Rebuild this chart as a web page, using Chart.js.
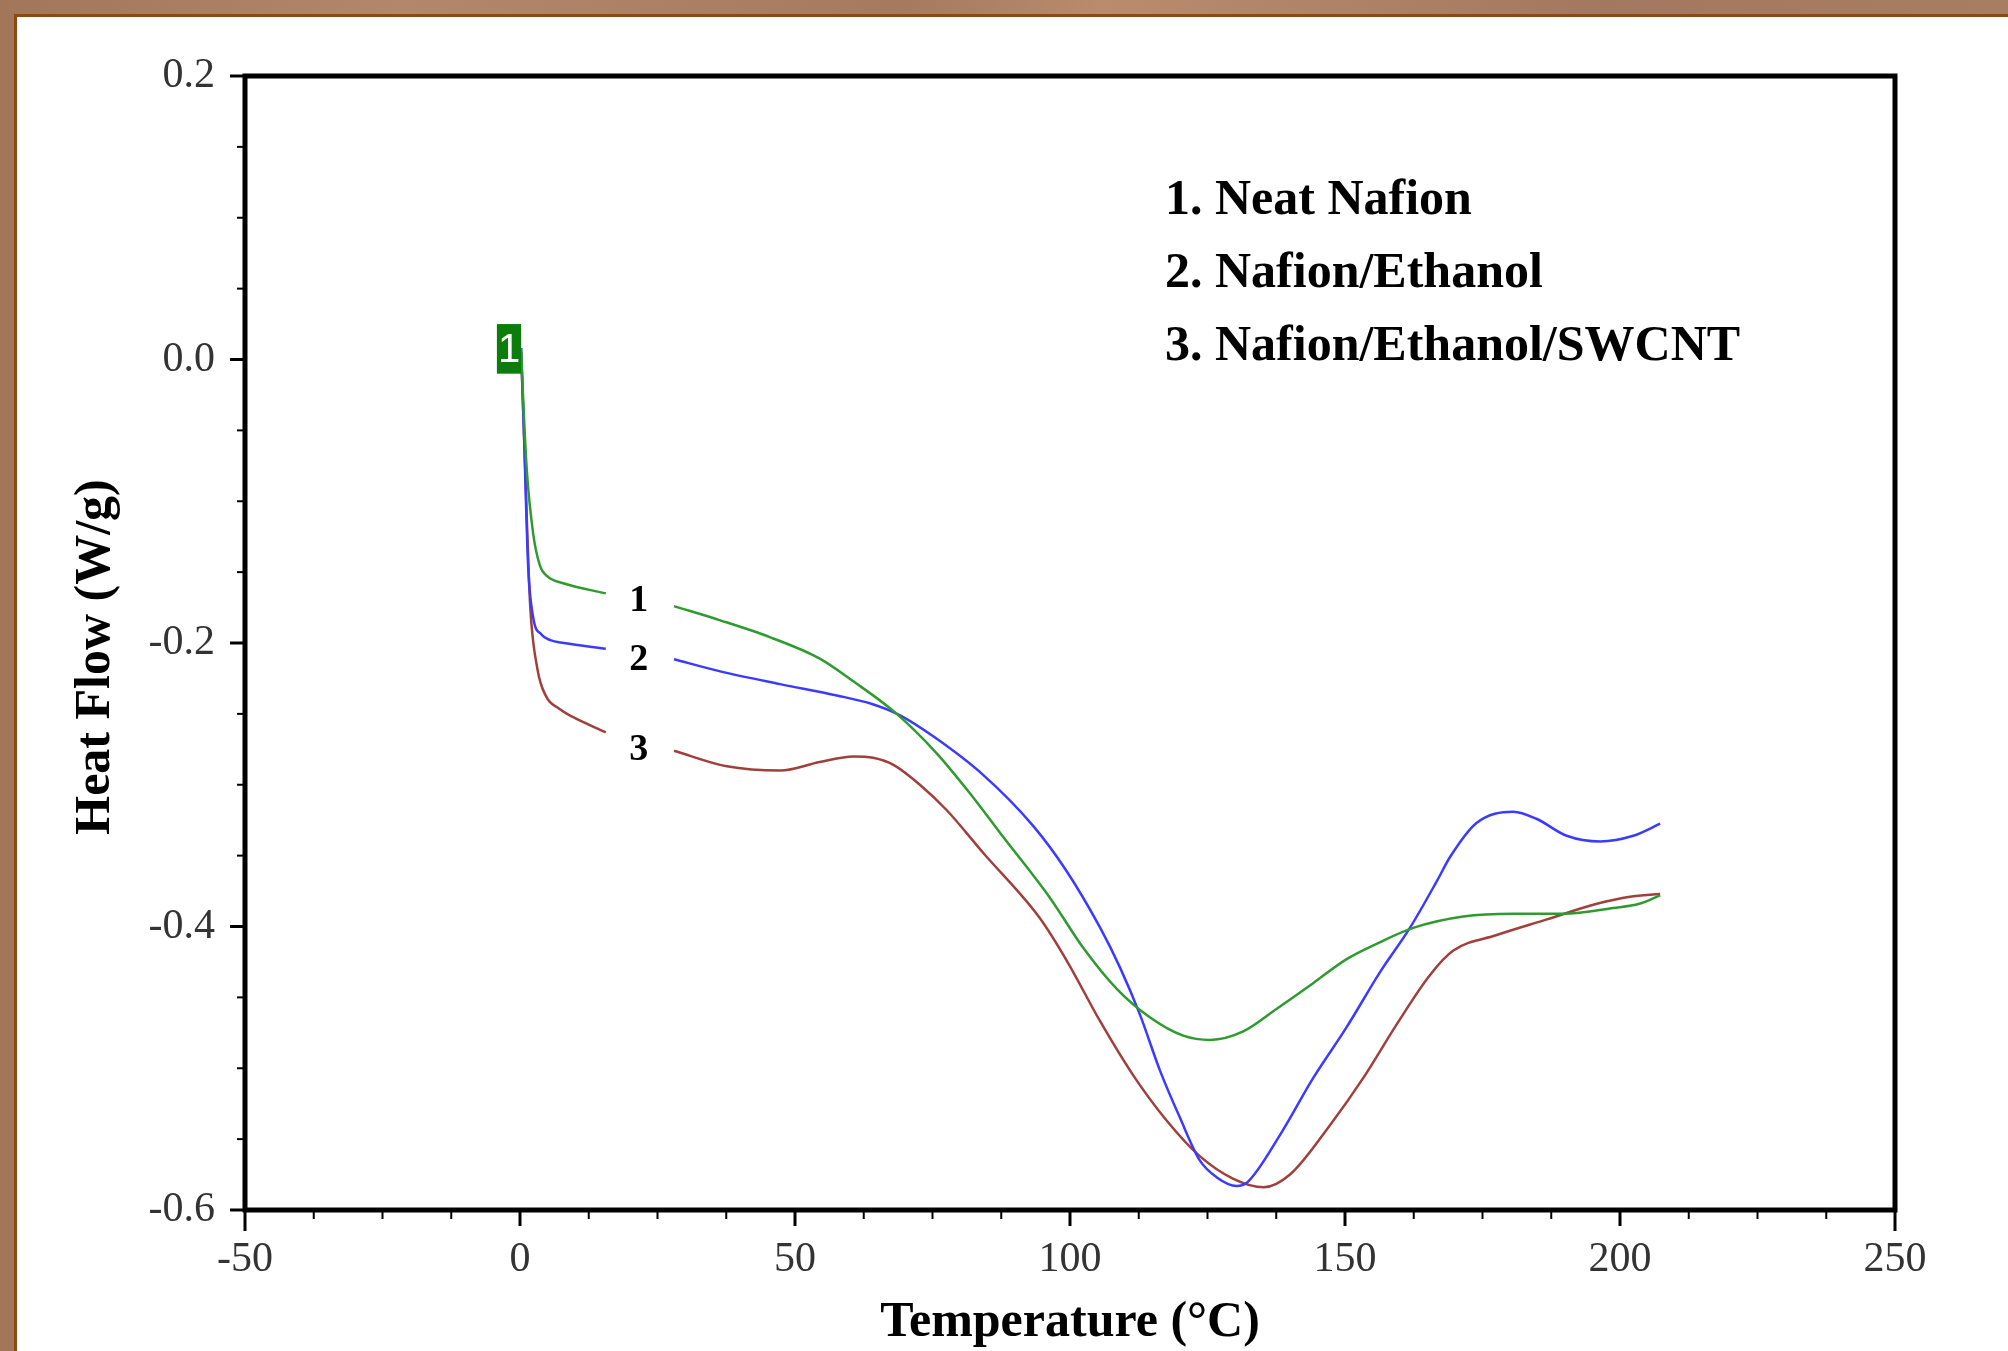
<!DOCTYPE html>
<html>
<head>
<meta charset="utf-8">
<script src="https://cdn.jsdelivr.net/npm/chart.js@4.4.1/dist/chart.umd.min.js"></script>
<style>
  html, body { margin: 0; padding: 0; }
  body {
    width: 2008px; height: 1351px; overflow: hidden; position: relative;
    background: linear-gradient(90deg, #a27659 0%, #b3876a 20%, #a57a5e 45%, #b88c6c 55%, #a37860 80%, #a87e62 100%);
  }
  #frame {
    position: absolute; left: 14px; top: 14px; width: 1994px; height: 1337px;
    border-left: 3px solid #8c4a12; border-top: 3px solid #8c4a12;
    background: #fff;
  }
  canvas { display: block; }
</style>
</head>
<body>
<div id="frame"><canvas id="dscChart" width="1991" height="1334"></canvas></div>
<script>
// curve 1: Neat Nafion (null = gap for the inline label)
const neatT  = [0.2, 0.6, 1.2, 2.4, 3.6, 5.0, 8, 15.6, 22, 28, 36.4, 45.5, 54.5, 60.6, 68.5, 75.8, 81.8, 87.3, 96.4, 102.4, 108.5, 114.5, 120.6, 125.5, 131.5, 137.6, 144.2, 150.3, 156.4, 162.4, 171.5, 180.6, 189.7, 198.8, 203.5, 207.3];
const neatHF = [0.008, -0.03, -0.076, -0.123, -0.145, -0.153, -0.158, -0.165, null, -0.174, -0.184, -0.196, -0.211, -0.227, -0.25, -0.278, -0.306, -0.334, -0.38, -0.415, -0.444, -0.464, -0.477, -0.48, -0.474, -0.458, -0.44, -0.423, -0.411, -0.401, -0.393, -0.391, -0.391, -0.387, -0.384, -0.378];

// curve 2: Nafion/Ethanol
const ethT  = [0.2, 0.7, 1.5, 2.4, 3.9, 5.5, 8, 15.6, 22, 28, 36.4, 47.3, 57.6, 64, 69.1, 75.2, 84.2, 93.3, 99.4, 105.5, 109.1, 112.7, 116.4, 120, 123.6, 126.7, 130.3, 132.1, 138.2, 144.2, 150.3, 156.4, 161.8, 166.7, 169.1, 173.9, 180.6, 184.8, 190.3, 196.4, 202.4, 207.3];
const ethHF = [0.008, -0.05, -0.147, -0.182, -0.194, -0.198, -0.2, -0.204, null, -0.2115, -0.22, -0.229, -0.237, -0.243, -0.251, -0.266, -0.293, -0.329, -0.361, -0.401, -0.429, -0.462, -0.502, -0.535, -0.565, -0.577, -0.583, -0.581, -0.547, -0.507, -0.471, -0.432, -0.401, -0.368, -0.351, -0.327, -0.319, -0.324, -0.336, -0.34, -0.336, -0.3275];

// curve 3: Nafion/Ethanol/SWCNT
const swT  = [0.2, 0.8, 1.8, 3.15, 4.8, 7, 9.5, 15.6, 22, 28, 37.6, 47.3, 54.5, 60.6, 64.2, 67.9, 72.7, 77.6, 84.2, 94.5, 99.4, 105.5, 111.5, 117.6, 123.6, 129.7, 135.2, 140, 147.3, 153.3, 159.4, 165.5, 169.7, 177.6, 186.7, 195.8, 201.8, 207.3];
const swHF = [0.005, -0.06, -0.17, -0.218, -0.238, -0.246, -0.252, -0.263, null, -0.276, -0.287, -0.29, -0.284, -0.28, -0.281, -0.286, -0.3, -0.318, -0.348, -0.394, -0.424, -0.467, -0.505, -0.537, -0.562, -0.578, -0.584, -0.575, -0.54, -0.507, -0.469, -0.434, -0.417, -0.406, -0.395, -0.384, -0.379, -0.377];

const legendLines = ['1. Neat Nafion', '2. Nafion/Ethanol', '3. Nafion/Ethanol/SWCNT'];
const tagText = ['1', '2', '3'];
const tagT = 21.6;
const tagHF = [-0.169, -0.211, -0.2745];

const serif = '"Liberation Serif", "Times New Roman", serif';
const toPoints = (ts, hs) => ts.map((t, i) => ({ x: t, y: hs[i] }));

const framePlugin = {
    id: 'frame',
    afterDraw(chart) {
        const { ctx, chartArea: a, scales: { x, y } } = chart;
        ctx.save();
        ctx.strokeStyle = '#000';
        ctx.lineCap = 'butt';

        // x ticks (major every 50, minor every 12.5)
        for (let v = -50; v <= 250; v += 12.5) {
            const px = x.getPixelForValue(v);
            const major = v % 50 === 0;
            const len = (v === -50 || v === 250) ? 21 : major ? 16 : 9;
            ctx.lineWidth = major ? 3 : 2;
            ctx.beginPath();
            ctx.moveTo(px, a.bottom);
            ctx.lineTo(px, a.bottom + len);
            ctx.stroke();
        }
        // y ticks (major every 0.2, minor every 0.05)
        for (let i = 0; i <= 16; i++) {
            const v = -0.6 + i * 0.05;
            const py = y.getPixelForValue(v);
            const major = i % 4 === 0;
            ctx.lineWidth = major ? 3 : 2;
            ctx.beginPath();
            ctx.moveTo(a.left, py);
            ctx.lineTo(a.left - (major ? 15 : 8), py);
            ctx.stroke();
        }
        // plot box
        ctx.lineWidth = 5;
        ctx.strokeRect(a.left, a.top, a.right - a.left, a.bottom - a.top);

        // green start marker
        const bx0 = x.getPixelForValue(-4.2), bx1 = x.getPixelForValue(0.2);
        const by0 = y.getPixelForValue(0.025), by1 = y.getPixelForValue(-0.010);
        ctx.fillStyle = '#0a7d0a';
        ctx.fillRect(bx0, by0, bx1 - bx0, by1 - by0);
        ctx.fillStyle = '#fff';
        ctx.font = '40px "Liberation Sans", Arial, sans-serif';
        ctx.textAlign = 'center';
        ctx.textBaseline = 'middle';
        ctx.fillText('1', (bx0 + bx1) / 2, (by0 + by1) / 2 + 2);

        // inline curve numbers
        ctx.fillStyle = '#000';
        ctx.font = 'bold 38px ' + serif;
        tagText.forEach((t, i) => {
            ctx.fillText(t, x.getPixelForValue(tagT), y.getPixelForValue(tagHF[i]) + 2);
        });

        // y axis title
        ctx.save();
        ctx.font = 'bold 50px ' + serif;
        ctx.translate(79, (a.top + a.bottom) / 2 + 14);
        ctx.rotate(-Math.PI / 2);
        ctx.fillText('Heat Flow (W/g)', 0, 0);
        ctx.restore();

        // legend text
        ctx.font = 'bold 50px ' + serif;
        ctx.textAlign = 'left';
        ctx.textBaseline = 'alphabetic';
        legendLines.forEach((t, i) => {
            ctx.fillText(t, a.left + 920, a.top + 138 + i * 73);
        });
        ctx.restore();
    }
};

new Chart(document.getElementById('dscChart'), {
    type: 'line',
    data: {
        datasets: [
            { label: 'Neat Nafion', data: toPoints(neatT, neatHF), borderColor: '#2f9b2f' },
            { label: 'Nafion/Ethanol', data: toPoints(ethT, ethHF), borderColor: '#3b3bff' },
            { label: 'Nafion/Ethanol/SWCNT', data: toPoints(swT, swHF), borderColor: '#a0403c' }
        ]
    },
    options: {
        responsive: false,
        animation: false,
        devicePixelRatio: 1,
        layout: { padding: { top: 59, right: 113, bottom: 0, left: 0 } },
        elements: {
            line: { borderWidth: 2.5, cubicInterpolationMode: 'monotone', fill: false },
            point: { radius: 0 }
        },
        plugins: {
            legend: { display: false },
            tooltip: { enabled: false }
        },
        scales: {
            x: {
                type: 'linear',
                min: -50,
                max: 250,
                grid: { display: false, drawTicks: false },
                border: { display: false },
                ticks: { stepSize: 50, padding: 25, color: '#333', font: { family: serif, size: 42 } },
                title: {
                    display: true,
                    text: 'Temperature (\u00B0C)',
                    color: '#000',
                    padding: { top: 0, bottom: 0 },
                    font: { family: serif, size: 50, weight: 'bold', lineHeight: 1.1 }
                },
                afterFit: s => { s.height = 141; }
            },
            y: {
                min: -0.6,
                max: 0.2,
                grid: { display: false, drawTicks: false },
                border: { display: false },
                ticks: {
                    stepSize: 0.2,
                    padding: 30,
                    color: '#333',
                    font: { family: serif, size: 42 },
                    callback: v => Math.abs(v) < 1e-9 ? '0.0' : v.toFixed(1)
                },
                afterFit: s => { s.width = 228; }
            }
        }
    },
    plugins: [framePlugin]
});
</script>
</body>
</html>
